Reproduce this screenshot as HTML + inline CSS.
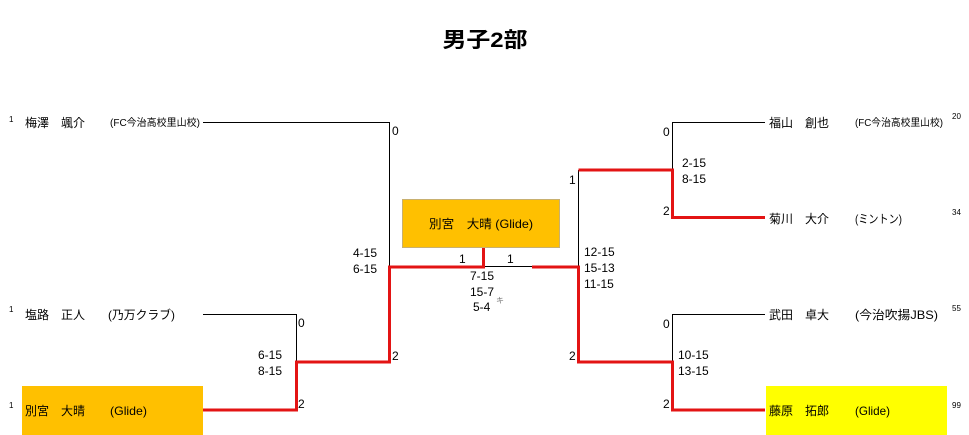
<!DOCTYPE html>
<html><head><meta charset="utf-8"><style>
html,body{margin:0;padding:0;background:#fff;}
svg{display:block;}
text{font-family:"Liberation Sans","Noto Sans CJK JP",sans-serif;fill:#000;}
</style></head><body>
<svg width="969" height="435" viewBox="0 0 969 435" xmlns="http://www.w3.org/2000/svg">
<rect x="0" y="0" width="969" height="435" fill="#fff"/>
<!-- title -->
<text x="485" y="47" font-size="21" font-weight="bold" text-anchor="middle" textLength="85" lengthAdjust="spacingAndGlyphs">男子2部</text>

<!-- boxes -->
<rect x="402.5" y="199.5" width="157" height="48" fill="#FFC000" stroke="#c8b070" stroke-width="1"/>
<rect x="22" y="386" width="181" height="49" fill="#FFC000"/>
<rect x="766" y="386" width="181" height="49" fill="#FFFF00"/>

<!-- thin black lines -->
<g stroke="#000" stroke-width="1" fill="none">
<path d="M203 122.5 H389.5 V267"/>
<path d="M203 314.5 H296.5 V362"/>
<path d="M483 266.5 H532"/>
<path d="M765 122.5 H672.5 V170"/>
<path d="M765 314.5 H672.5 V362"/>
<path d="M578.5 170 V267"/>
</g>
<!-- red lines -->
<g stroke="#e31414" stroke-width="3" fill="none" stroke-linejoin="miter">
<path d="M203 410 H296.5 V362 H389.5 V267 H483.5 V248"/>
<path d="M532 267 H578.5 V362 H672.5 V410 H765"/>
<path d="M765 217.5 H672.5 V170 H578.5"/>
</g>

<!-- left names -->
<text x="9" y="122" font-size="8">1</text>
<text x="25" y="127" font-size="12" textLength="60" lengthAdjust="spacingAndGlyphs">梅澤　颯介</text>
<text x="110" y="126" font-size="10" textLength="90" lengthAdjust="spacingAndGlyphs">(FC今治高校里山校)</text>

<text x="9" y="312" font-size="8">1</text>
<text x="25" y="319" font-size="12" textLength="60" lengthAdjust="spacingAndGlyphs">塩路　正人</text>
<text x="108" y="319" font-size="12" textLength="67" lengthAdjust="spacingAndGlyphs">(乃万クラブ)</text>

<text x="9" y="408" font-size="8">1</text>
<text x="25" y="415" font-size="12" textLength="60" lengthAdjust="spacingAndGlyphs">別宮　大晴</text>
<text x="110" y="415" font-size="12" textLength="37" lengthAdjust="spacingAndGlyphs">(Glide)</text>

<!-- left scores -->
<text x="392" y="135" font-size="12">0</text>
<text x="353" y="257" font-size="12">4-15</text>
<text x="353" y="273" font-size="12">6-15</text>
<text x="392" y="360" font-size="12">2</text>
<text x="298" y="327" font-size="12">0</text>
<text x="258" y="359" font-size="12">6-15</text>
<text x="258" y="375" font-size="12">8-15</text>
<text x="298" y="408" font-size="12">2</text>

<!-- center -->
<text x="429" y="228" font-size="12" textLength="104" lengthAdjust="spacingAndGlyphs">別宮　大晴 (Glide)</text>
<text x="459" y="263" font-size="12">1</text>
<text x="507" y="263" font-size="12">1</text>
<text x="470" y="280" font-size="12">7-15</text>
<text x="470" y="296" font-size="12">15-7</text>
<text x="473" y="311" font-size="12">5-4</text>
<text x="496" y="303" font-size="8" style="fill:#777">キ</text>

<!-- right scores -->
<text x="569" y="184" font-size="12">1</text>
<text x="584" y="256" font-size="12">12-15</text>
<text x="584" y="272" font-size="12">15-13</text>
<text x="584" y="288" font-size="12">11-15</text>
<text x="569" y="360" font-size="12">2</text>
<text x="663" y="136" font-size="12">0</text>
<text x="682" y="167" font-size="12">2-15</text>
<text x="682" y="183" font-size="12">8-15</text>
<text x="663" y="215" font-size="12">2</text>
<text x="663" y="328" font-size="12">0</text>
<text x="678" y="359" font-size="12">10-15</text>
<text x="678" y="375" font-size="12">13-15</text>
<text x="663" y="408" font-size="12">2</text>

<!-- right names -->
<text x="769" y="127" font-size="12" textLength="60" lengthAdjust="spacingAndGlyphs">福山　創也</text>
<text x="855" y="126" font-size="10" textLength="88" lengthAdjust="spacingAndGlyphs">(FC今治高校里山校)</text>
<text x="952" y="119" font-size="8">20</text>

<text x="769" y="223" font-size="12" textLength="60" lengthAdjust="spacingAndGlyphs">菊川　大介</text>
<text x="855" y="223" font-size="12" textLength="47" lengthAdjust="spacingAndGlyphs">(ミントン)</text>
<text x="952" y="215" font-size="8">34</text>

<text x="769" y="319" font-size="12" textLength="60" lengthAdjust="spacingAndGlyphs">武田　卓大</text>
<text x="855" y="319" font-size="12" textLength="83" lengthAdjust="spacingAndGlyphs">(今治吹揚JBS)</text>
<text x="952" y="311" font-size="8">55</text>

<text x="769" y="415" font-size="12" textLength="60" lengthAdjust="spacingAndGlyphs">藤原　拓郎</text>
<text x="855" y="415" font-size="12" textLength="35" lengthAdjust="spacingAndGlyphs">(Glide)</text>
<text x="952" y="408" font-size="8">99</text>
</svg>
</body></html>
